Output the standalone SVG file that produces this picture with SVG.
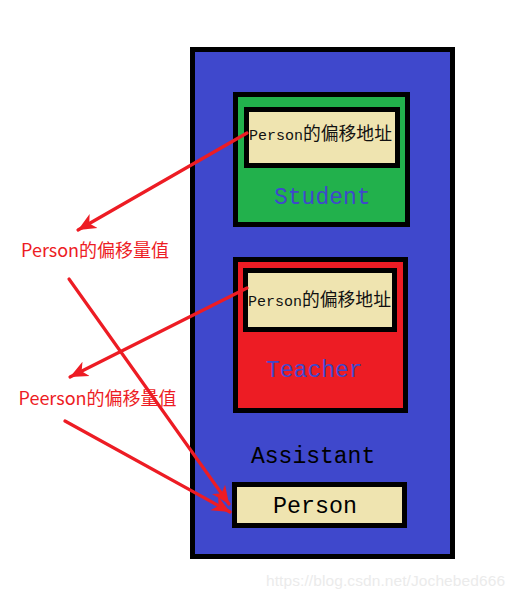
<svg xmlns="http://www.w3.org/2000/svg" width="516" height="599" viewBox="0 0 516 599">
<style>
.box{stroke:#000;stroke-width:5}
.mono{font-family:"Liberation Mono","DejaVu Sans Mono",monospace}
.cjk{font-family:"Noto Sans CJK SC",sans-serif}
.lbl{font-family:"Noto Sans CJK SC","Noto Sans",sans-serif;font-size:18px;fill:#ed1c24}
.arr{stroke:#ed1c24;stroke-width:3.2;fill:none;stroke-linecap:round;marker-end:url(#ah)}
</style>
<defs>
<marker id="ah" markerUnits="userSpaceOnUse" markerWidth="24" markerHeight="20" refX="18" refY="8" orient="auto" viewBox="0 0 24 16">
<path d="M0,0 L18,8 L0,16 L5,8 Z" fill="#ed1c24"/>
</marker>
</defs>
<rect width="516" height="599" fill="#fff"/>
<g id="assistant">
<rect class="box" x="192.5" y="49.5" width="260" height="507" fill="#3f48cc"/>
<text class="mono" x="251" y="463" font-size="23" fill="#000">Assistant</text>
</g>
<g id="student">
<rect class="box" x="235.5" y="94.5" width="172" height="130" fill="#22b14c"/>
<rect class="box" x="246.5" y="109.5" width="151" height="56" fill="#efe4b0"/>
<text x="249" y="140" fill="#111"><tspan class="mono" font-size="15">Person</tspan><tspan class="cjk" font-size="17.8">的偏移地址</tspan></text>
<text class="mono" x="274" y="204" font-size="23" fill="#3f48cc">Student</text>
</g>
<g id="teacher">
<rect class="box" x="235.5" y="259.5" width="170" height="151" fill="#ed1c24"/>
<rect class="box" x="245.5" y="270.5" width="149" height="59" fill="#efe4b0"/>
<text x="248" y="306" fill="#111"><tspan class="mono" font-size="15">Person</tspan><tspan class="cjk" font-size="17.8">的偏移地址</tspan></text>
<text class="mono" x="266" y="377" font-size="23" fill="#3f48cc">Teacher</text>
</g>
<g id="person">
<rect class="box" x="234.5" y="484.5" width="170" height="41" fill="#efe4b0"/>
<text class="mono" x="273" y="513" font-size="23.3" fill="#000">Person</text>
</g>
<g id="label1"><text class="lbl" x="21" y="257">Person的偏移量值</text></g>
<g id="label2"><text class="lbl" x="18.5" y="405">Peerson的偏移量值</text></g>
<g id="connectors">
<line class="arr" x1="247" y1="133" x2="78" y2="230"/>
<line class="arr" x1="247" y1="288" x2="70" y2="377"/>
<line class="arr" x1="69" y1="279" x2="229" y2="504"/>
<line class="arr" x1="65" y1="421" x2="230" y2="512"/>
</g>
<text x="266" y="586" font-family="Liberation Sans,Arial,sans-serif" font-size="15.5" textLength="239" fill="#ebebeb">https://blog.csdn.net/Jochebed666</text>
</svg>
